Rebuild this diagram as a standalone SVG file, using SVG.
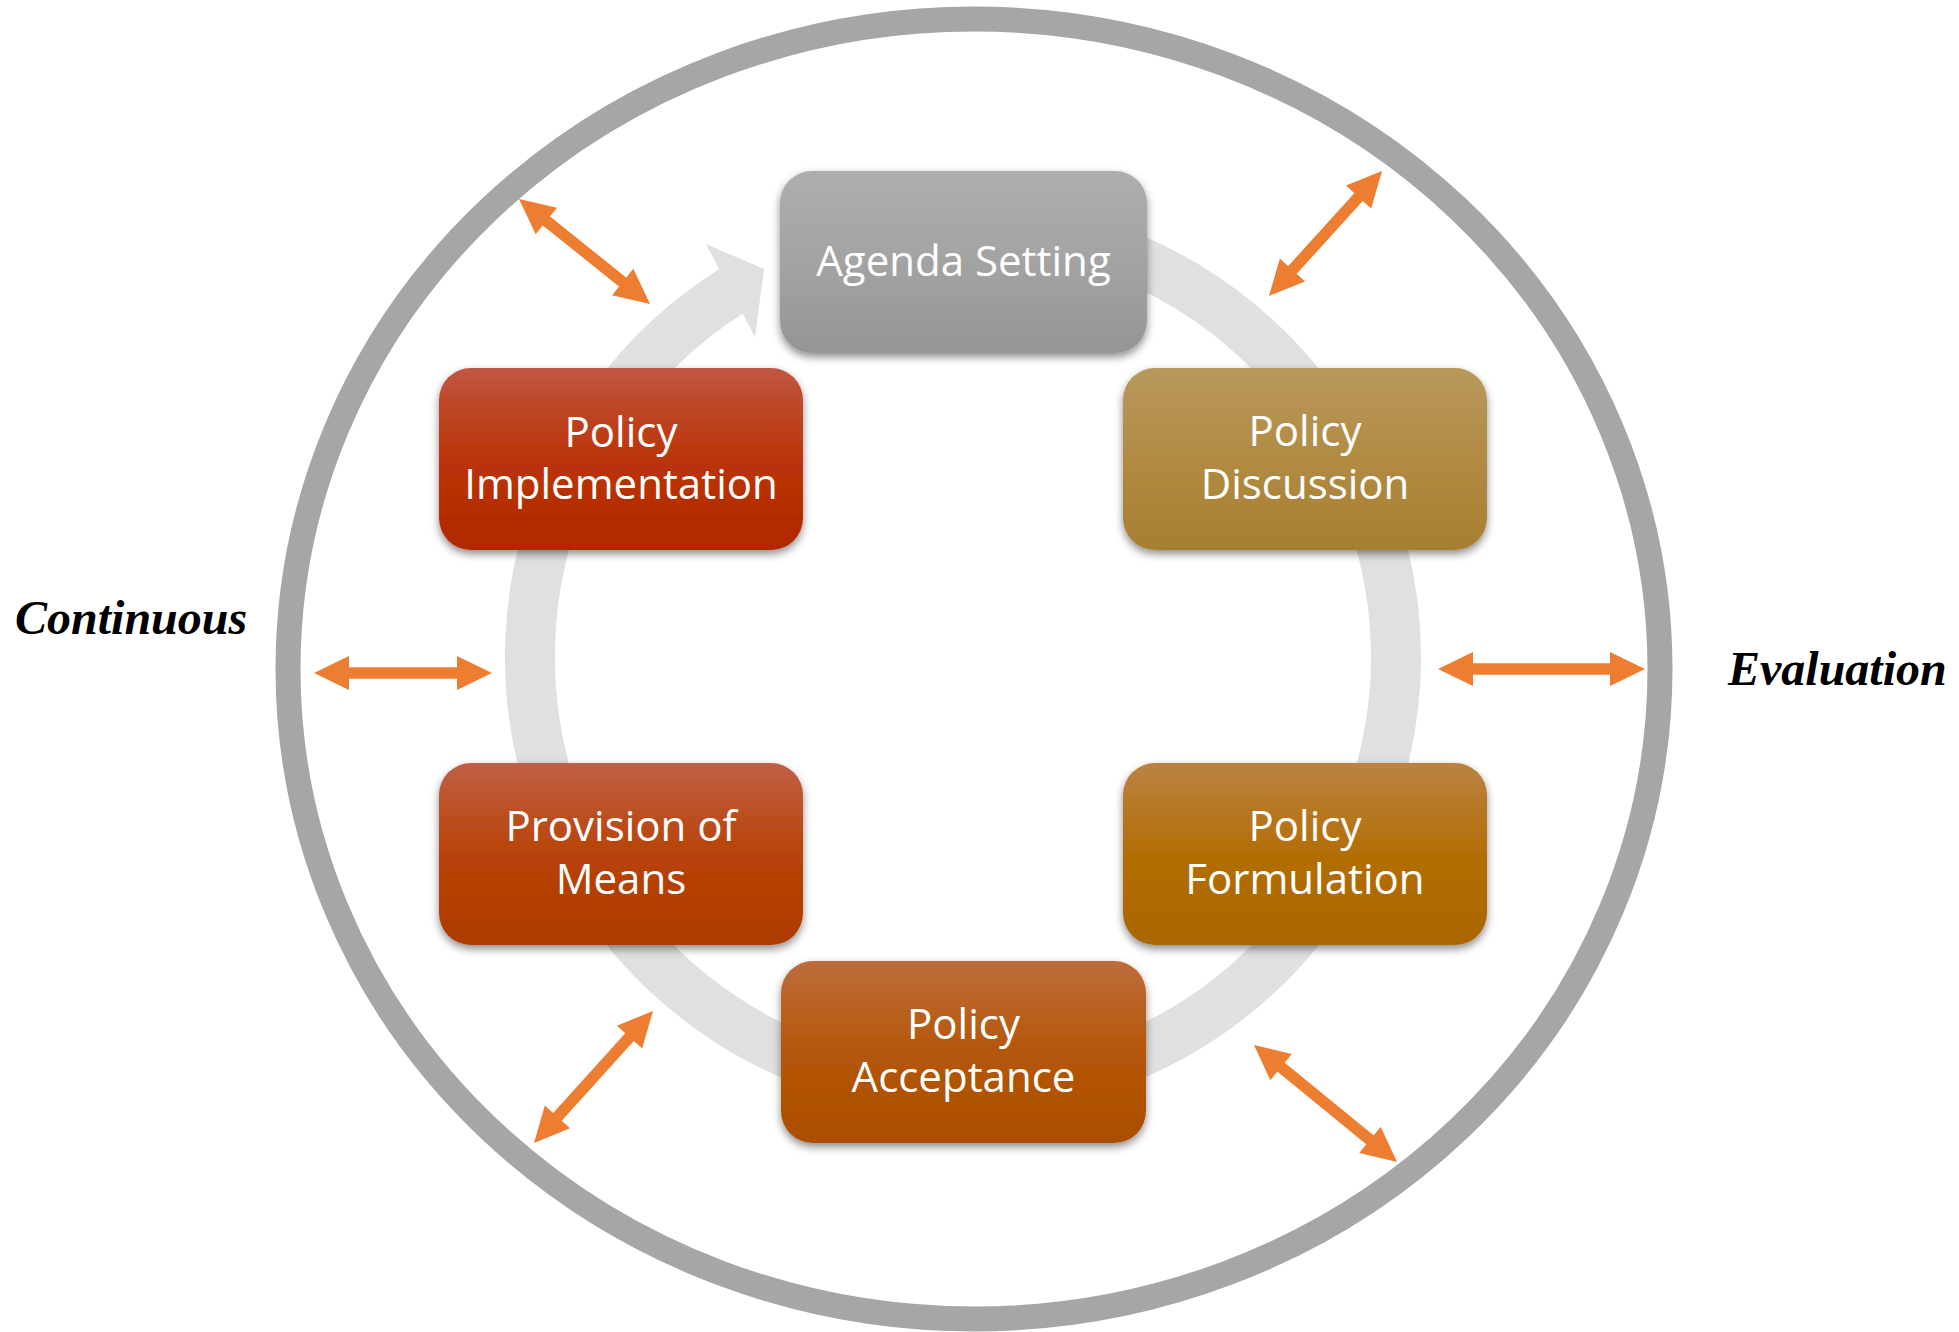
<svg xmlns="http://www.w3.org/2000/svg" width="1959" height="1332" viewBox="0 0 1959 1332">
<defs>
<style>
.box{filter:url(#shadow);}
.lbl{font-family:"Open Sans","Liberation Sans",sans-serif;font-size:42px;fill:#ffffff;text-anchor:middle;}
.side{font-family:"Liberation Serif","Times New Roman",serif;font-size:48px;font-weight:bold;font-style:italic;fill:#000000;}
.dbl{stroke:#ed7d31;stroke-width:11.5;fill:none;marker-start:url(#head);marker-end:url(#head);}
</style>
<filter id="shadow" x="-10%" y="-10%" width="120%" height="130%">
<feDropShadow dx="0" dy="4" stdDeviation="4" flood-color="#000000" flood-opacity="0.45"/>
</filter>
<marker id="head" markerUnits="userSpaceOnUse" markerWidth="35" markerHeight="34" refX="5" refY="17" orient="auto-start-reverse" overflow="visible">
<path d="M0,0 L35,17 L0,34 Z" fill="#ed7d31"/>
</marker>
<linearGradient id="gAgenda" x1="0" y1="0" x2="0" y2="1"><stop offset="0" stop-color="#aeaeae"/><stop offset="0.5" stop-color="#a3a3a3"/><stop offset="1" stop-color="#959595"/></linearGradient>
<linearGradient id="gImpl" x1="0" y1="0" x2="0" y2="1"><stop offset="0" stop-color="#c05641"/><stop offset="0.5" stop-color="#bb3408"/><stop offset="1" stop-color="#b12800"/></linearGradient>
<linearGradient id="gDisc" x1="0" y1="0" x2="0" y2="1"><stop offset="0" stop-color="#b9985d"/><stop offset="0.5" stop-color="#b18b42"/><stop offset="1" stop-color="#a77f32"/></linearGradient>
<linearGradient id="gForm" x1="0" y1="0" x2="0" y2="1"><stop offset="0" stop-color="#bb8244"/><stop offset="0.5" stop-color="#b36e06"/><stop offset="1" stop-color="#aa6600"/></linearGradient>
<linearGradient id="gProv" x1="0" y1="0" x2="0" y2="1"><stop offset="0" stop-color="#bf5f45"/><stop offset="0.5" stop-color="#b84308"/><stop offset="1" stop-color="#ae3a00"/></linearGradient>
<linearGradient id="gAcc" x1="0" y1="0" x2="0" y2="1"><stop offset="0" stop-color="#bd6d3c"/><stop offset="0.5" stop-color="#b55608"/><stop offset="1" stop-color="#ab4e00"/></linearGradient>
</defs>
<rect x="0" y="0" width="1959" height="1332" fill="#ffffff"/>
<g id="outer-ring">
<ellipse cx="974" cy="669" rx="686" ry="650" fill="none" stroke="#a6a6a6" stroke-width="25"/>
</g>
<g id="cycle-arrow">
<path d="M887.8,230.6 A433,433 0 1 1 733.5,289.8" fill="none" stroke="#e0e0e0" stroke-width="50"/>
<polygon points="706,244 764,269 755,337" fill="#e0e0e0"/>
</g>
<g id="connectors">
<line class="dbl" x1="542.4" y1="217.8" x2="626.6" y2="285.2"/>
<line class="dbl" x1="1289.1" y1="273.7" x2="1361.9" y2="193.3"/>
<line class="dbl" x1="554.1" y1="1120.7" x2="632.9" y2="1033.3"/>
<line class="dbl" x1="1277.2" y1="1064" x2="1373.8" y2="1143"/>
<line class="dbl" x1="344" y1="673" x2="462" y2="673"/>
<line class="dbl" x1="1468" y1="669" x2="1615" y2="669"/>
</g>
<g id="agenda-setting">
<rect class="box" x="780" y="171" width="367" height="182" rx="32" fill="url(#gAgenda)"/>
<text class="lbl" x="963.5" y="276">Agenda Setting</text>
</g>
<g id="policy-discussion">
<rect class="box" x="1123" y="368" width="364" height="182" rx="32" fill="url(#gDisc)"/>
<text class="lbl" x="1305" y="446">Policy</text>
<text class="lbl" x="1305" y="499">Discussion</text>
</g>
<g id="policy-formulation">
<rect class="box" x="1123" y="763" width="364" height="182" rx="32" fill="url(#gForm)"/>
<text class="lbl" x="1305" y="841">Policy</text>
<text class="lbl" x="1305" y="894">Formulation</text>
</g>
<g id="policy-acceptance">
<rect class="box" x="781" y="961" width="365" height="182" rx="32" fill="url(#gAcc)"/>
<text class="lbl" x="963.5" y="1039">Policy</text>
<text class="lbl" x="963.5" y="1092">Acceptance</text>
</g>
<g id="provision-of-means">
<rect class="box" x="439" y="763" width="364" height="182" rx="32" fill="url(#gProv)"/>
<text class="lbl" x="621" y="841">Provision of</text>
<text class="lbl" x="621" y="894">Means</text>
</g>
<g id="policy-implementation">
<rect class="box" x="439" y="368" width="364" height="182" rx="32" fill="url(#gImpl)"/>
<text class="lbl" x="621" y="447">Policy</text>
<text class="lbl" x="621" y="499">Implementation</text>
</g>
<g id="side-labels">
<text class="side" x="15" y="634">Continuous</text>
<text class="side" x="1728" y="685">Evaluation</text>
</g>
</svg>
